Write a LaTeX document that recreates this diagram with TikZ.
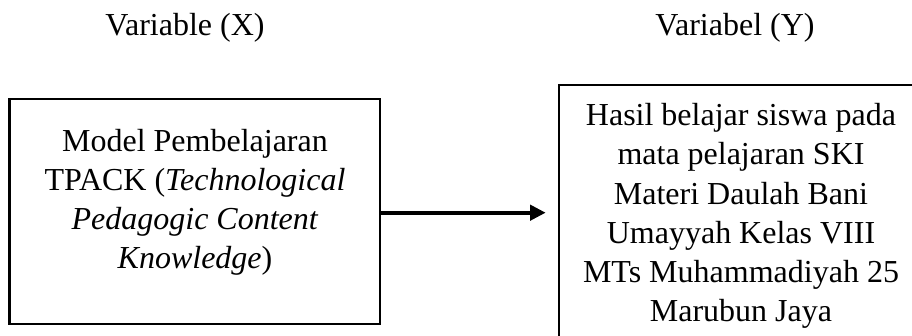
\documentclass[tikz,border=0pt]{standalone}
\usepackage{fontspec}
\setmainfont{Liberation Serif}
\usetikzlibrary{arrows.meta}
\begin{document}
\begin{tikzpicture}[x=1pt,y=-1pt,
  boxstyle/.style={draw=black,line width=2.4pt,rectangle,inner sep=0pt,outer sep=0pt},
  txt/.style={font=\fontsize{32}{39.2}\selectfont,align=center,inner sep=0pt},
  arr/.style={line width=4pt,-{Triangle[length=15.5pt,width=15pt]}}]
\path[use as bounding box,clip] (0,0) rectangle (912,336);
\fill[white] (0,0) rectangle (912,336);
\node[txt,anchor=base] (vx) at (185,36) {Variable (X)};
\node[txt,anchor=base] (vy) at (735,36) {Variabel (Y)};
\node[boxstyle,minimum width=370.7pt,minimum height=225pt] (boxL) at (194.65,211.5) {};
\node[boxstyle,minimum width=364pt,minimum height=262pt] (boxR) at (741,216) {};
\node[txt,anchor=base] (tL) at (195,269) {Model Pembelajaran\\TPACK (\textit{Technological}\\\textit{Pedagogic Content}\\\textit{Knowledge})};
\node[txt,anchor=base] (tR) at (741,321.7) {Hasil belajar siswa pada\\mata pelajaran SKI\\Materi Daulah Bani\\Umayyah Kelas VIII\\MTs Muhammadiyah 25\\Marubun Jaya};
\coordinate (tip) at (545.7,212.7);
\draw[arr] (boxL.east |- tip) -- (tip);
\end{tikzpicture}
\end{document}
